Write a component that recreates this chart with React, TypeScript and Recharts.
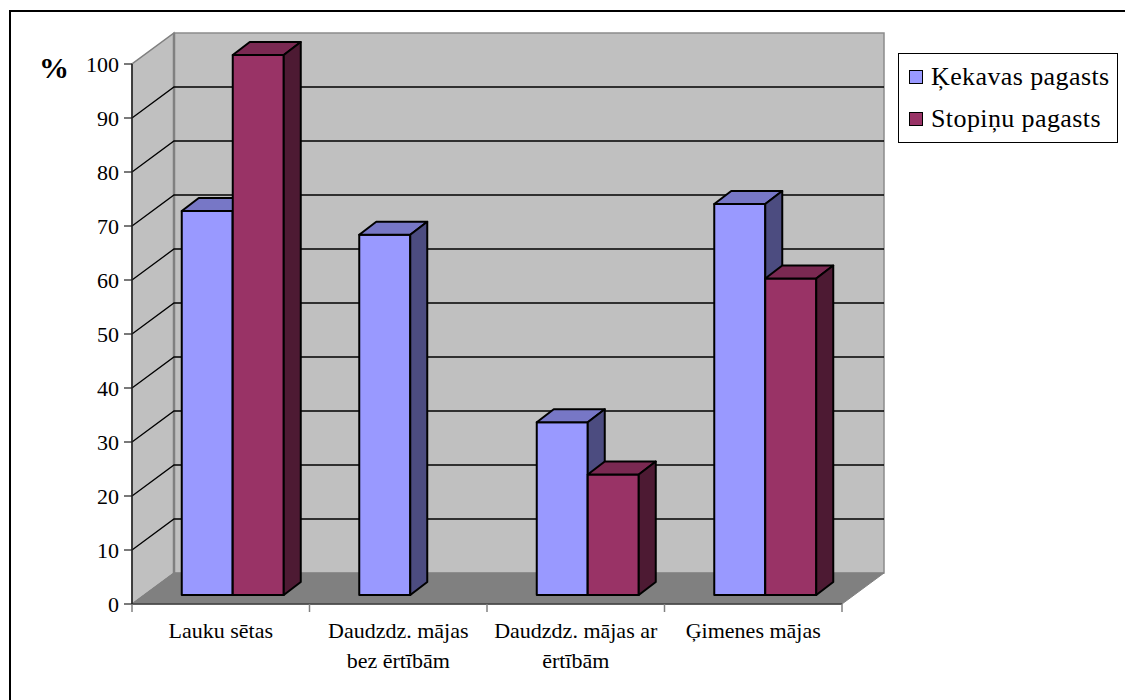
import { BarChart, Bar, XAxis, YAxis, CartesianGrid, ReferenceArea, Label } from 'recharts';

const categories = [
  'Lauku sētas',
  'Daudzdz. mājas bez ērtībām',
  'Daudzdz. mājas ar ērtībām',
  'Ģimenes mājas',
];

// how each category label is broken over lines under the axis
const categoryLines: Record<string, string[]> = {
  'Lauku sētas': ['Lauku sētas'],
  'Daudzdz. mājas bez ērtībām': ['Daudzdz. mājas', 'bez ērtībām'],
  'Daudzdz. mājas ar ērtībām': ['Daudzdz. mājas ar', 'ērtībām'],
  'Ģimenes mājas': ['Ģimenes mājas'],
};

const kekavaValues = [71.1, 66.7, 32, 72.4];
const stopinuValues: (number | null)[] = [100, null, 22.3, 58.6];

const yTicks = [0, 10, 20, 30, 40, 50, 60, 70, 80, 90, 100];

const seriesNames = ['Ķekavas pagasts', 'Stopiņu pagasts'];

const data = categories.map((name, i) => ({
  name,
  kekava: kekavaValues[i],
  stopinu: stopinuValues[i],
}));

const FONT = "'Liberation Serif', 'DejaVu Serif', serif";

// offset of the back wall from the front plane
const WALL_DX = 42;
const WALL_DY = 31;
// where the bars' front faces sit inside the box, and how deep they are
const BAR_SHIFT_X = 12;
const BAR_SHIFT_Y = 9;
const BAR_DX = 17;
const BAR_DY = 13;

const colors = {
  kekava: { face: '#9999ff', top: '#7777c6', side: '#4c4c80' },
  stopinu: { face: '#993366', top: '#7a2952', side: '#4d1a33' },
};

// side wall, back wall and floor of the 3D box
function Walls(props: any) {
  const { x, y, width, height } = props;
  const bottom = y + height;
  const bx = x + WALL_DX;
  const by = y - WALL_DY;
  return (
    <g>
      <polygon
        points={`${x},${bottom} ${x},${y} ${bx},${by} ${bx},${bottom - WALL_DY}`}
        fill="#c0c0c0"
        stroke="#808080"
        strokeWidth={1.5}
      />
      <rect x={bx} y={by} width={width} height={height} fill="#c0c0c0" stroke="#8c8c8c" strokeWidth={1.5} />
      <line x1={bx} y1={by} x2={bx} y2={bottom - WALL_DY} stroke="#808080" strokeWidth={2.5} />
      <polygon
        points={`${x},${bottom} ${bx},${bottom - WALL_DY} ${bx + width},${bottom - WALL_DY} ${x + width},${bottom}`}
        fill="#808080"
        stroke="#808080"
        strokeWidth={1}
      />
    </g>
  );
}

// gridline bent along the side wall onto the back wall
const gridLine = (props: any) => {
  const { x1, x2, y1, index } = props;
  if (index === 0 || index === yTicks.length - 1) return <g key={`grid-${index}`} />;
  return (
    <polyline
      key={`grid-${index}`}
      points={`${x1},${y1} ${x1 + WALL_DX},${y1 - WALL_DY} ${x2 + WALL_DX},${y1 - WALL_DY}`}
      fill="none"
      stroke="#000"
      strokeWidth={1.3}
    />
  );
};

function Box3D(props: any) {
  const { x, y, width, height, palette } = props;
  if (height == null || height <= 0) return null;
  const fx = x + BAR_SHIFT_X;
  const fy = y - BAR_SHIFT_Y;
  const w = width;
  const h = height;
  return (
    <g stroke="#000" strokeWidth={2} strokeLinejoin="round">
      <rect x={fx} y={fy} width={w} height={h} fill={palette.face} />
      <polygon
        points={`${fx},${fy} ${fx + BAR_DX},${fy - BAR_DY} ${fx + w + BAR_DX},${fy - BAR_DY} ${fx + w},${fy}`}
        fill={palette.top}
      />
      <polygon
        points={`${fx + w},${fy} ${fx + w + BAR_DX},${fy - BAR_DY} ${fx + w + BAR_DX},${fy + h - BAR_DY} ${fx + w},${fy + h}`}
        fill={palette.side}
      />
    </g>
  );
}

function CategoryTick(props: any) {
  const { x, y, payload, index } = props;
  const half = payload && typeof payload.offset === 'number' && payload.offset > 0 ? payload.offset : 88.75;
  const lines = categoryLines[payload.value] ?? [String(payload.value)];
  return (
    <g>
      <line x1={x - half} y1={y - 8} x2={x - half} y2={y} stroke="#808080" strokeWidth={1.5} />
      {index === categories.length - 1 && (
        <line x1={x + half} y1={y - 8} x2={x + half} y2={y} stroke="#808080" strokeWidth={1.5} />
      )}
      {lines.map((line, i) => (
        <text key={i} x={x} y={y + 26 + i * 30} textAnchor="middle" style={{ fontSize: 22, fontFamily: FONT }} fill="#000">
          {line}
        </text>
      ))}
    </g>
  );
}

const PercentLabel = (props: any) => {
  const vb = props.viewBox || { x: 72, y: 64 };
  return (
    <text x={vb.x - 33} y={vb.y + 14} style={{ fontSize: 30, fontWeight: 'bold', fontFamily: FONT }} fill="#000">
      %
    </text>
  );
};

export default function App() {
  const legendItems = [
    { name: seriesNames[0], color: colors.kekava.face },
    { name: seriesNames[1], color: colors.stopinu.face },
  ];

  return (
    <div
      style={{
        position: 'absolute',
        left: 0,
        top: 0,
        width: 1125,
        height: 700,
        overflow: 'hidden',
        background: '#fff',
        fontFamily: FONT,
      }}
    >
      {/* frame lines of the surrounding box */}
      <div style={{ position: 'absolute', left: 9, top: 10, width: 1116, height: 2, background: '#000' }} />
      <div style={{ position: 'absolute', left: 9, top: 10, width: 2, height: 690, background: '#000' }} />

      <BarChart
        width={1125}
        height={700}
        data={data}
        margin={{ top: 64, right: 283, bottom: 36, left: 72 }}
        barCategoryGap="21.27%"
        barGap={0}
        style={{ position: 'absolute', left: 0, top: 0, fontFamily: FONT }}
      >
        <ReferenceArea y1={0} y2={100} ifOverflow="visible" zIndex={-150} shape={(p: any) => <Walls {...p} />} />
        <CartesianGrid vertical={false} horizontal={gridLine} />
        <XAxis
          dataKey="name"
          height={60}
          interval={0}
          tickSize={8}
          tickMargin={0}
          tickLine={false}
          axisLine={{ stroke: '#404040', strokeWidth: 1.5 }}
          tick={<CategoryTick />}
        />
        <YAxis
          width={60}
          domain={[0, 100]}
          ticks={yTicks}
          interval={0}
          tickSize={8}
          tickMargin={5}
          axisLine={{ stroke: '#202020', strokeWidth: 1.5 }}
          tickLine={{ stroke: '#202020', strokeWidth: 1.2 }}
          tick={{ fontSize: 22, fill: '#000', fontFamily: FONT, style: { fontFamily: FONT } }}
        >
          <Label content={<PercentLabel />} />
        </YAxis>
        <Bar
          dataKey="kekava"
          name={seriesNames[0]}
          fill={colors.kekava.face}
          isAnimationActive={false}
          shape={(p: any) => <Box3D {...p} palette={colors.kekava} />}
        />
        <Bar
          dataKey="stopinu"
          name={seriesNames[1]}
          fill={colors.stopinu.face}
          isAnimationActive={false}
          shape={(p: any) => <Box3D {...p} palette={colors.stopinu} />}
        />
      </BarChart>

      <div
        style={{
          position: 'absolute',
          left: 898,
          top: 53,
          width: 218,
          height: 88,
          border: '1px solid #000',
          background: '#fff',
          fontFamily: FONT,
          fontSize: 26,
          color: '#000',
        }}
      >
        {legendItems.map((item, i) => (
          <div
            key={item.name}
            style={{
              position: 'absolute',
              left: 10,
              top: 8 + i * 42,
              height: 30,
              display: 'flex',
              alignItems: 'center',
              whiteSpace: 'nowrap',
              letterSpacing: 0.4,
            }}
          >
            <span
              style={{
                display: 'inline-block',
                width: 12,
                height: 12,
                border: '1.5px solid #000',
                background: item.color,
                marginRight: 8,
              }}
            />
            <span>{item.name}</span>
          </div>
        ))}
      </div>
    </div>
  );
}
